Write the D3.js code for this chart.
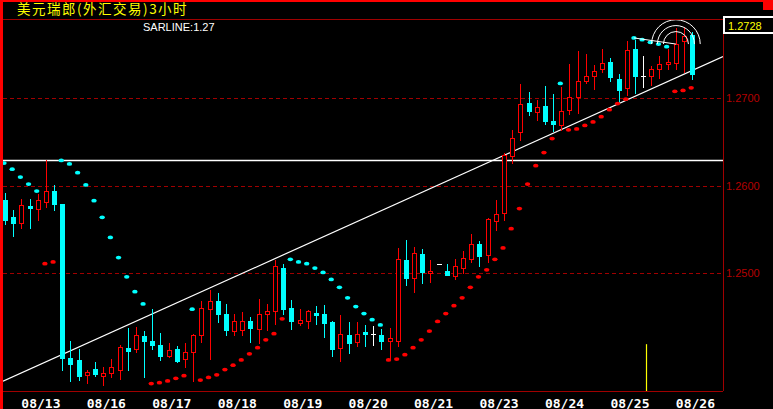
<!DOCTYPE html>
<html>
<head>
<meta charset="utf-8">
<script src="https://cdn.jsdelivr.net/npm/d3@7"></script>
<style>
  html, body { margin: 0; padding: 0; background: #000; }
  svg { display: block; }
</style>
</head>
<body>
<svg></svg>
<script>
const width = 773;
const height = 409;

// 3-hour candles, USD/CHF
const open = [1.2584,1.2564,1.2558,1.2577,1.2573,1.2582,1.2594,1.2579,1.2403,1.2401,
  1.2384,1.2391,1.2383,1.2386,1.2390,1.2415,1.2413,1.2428,1.2423,1.2418,
  1.2406,1.2413,1.2402,1.2410,1.2429,1.2459,1.2468,1.2453,1.2434,1.2435,
  1.2446,1.2436,1.2454,1.2457,1.2506,1.2460,1.2443,1.2446,1.2455,1.2453,
  1.2444,1.2415,1.2429,1.2421,1.2433,1.2431,1.2429,1.2423,1.2423,1.2515,
  1.2495,1.2522,1.2500,1.2511,1.2503,1.2497,1.2506,1.2516,1.2534,1.2521,
  1.2560,1.2569,1.2634,1.2662,1.2695,1.2684,1.2691,1.2674,1.2670,1.2687,
  1.2701,1.2720,1.2726,1.2733,1.2742,1.2722,1.2712,1.2756,1.2725,1.2726,
  1.2734,1.2739,1.2740,1.2765,1.2772];
const high = [1.2592,1.2572,1.2585,1.2585,1.2591,1.2629,1.2601,1.2579,1.2423,1.2413,
  1.2390,1.2399,1.2393,1.2402,1.2418,1.2438,1.2439,1.2434,1.2459,1.2432,
  1.2420,1.2417,1.2420,1.2431,1.2468,1.2481,1.2478,1.2465,1.2454,1.2456,
  1.2450,1.2471,1.2465,1.2515,1.2511,1.2470,1.2459,1.2458,1.2463,1.2464,
  1.2445,1.2452,1.2444,1.2444,1.2441,1.2440,1.2436,1.2437,1.2529,1.2538,
  1.2530,1.2528,1.2515,1.2511,1.2511,1.2516,1.2525,1.2545,1.2537,1.2563,
  1.2584,1.2637,1.2664,1.2716,1.2707,1.2698,1.2714,1.2705,1.2713,1.2739,
  1.2754,1.2751,1.2738,1.2756,1.2746,1.2728,1.2766,1.2767,1.2748,1.2737,
  1.2748,1.2756,1.2780,1.2782,1.2776];
const low = [1.2556,1.2543,1.2552,1.2552,1.2561,1.2576,1.2572,1.2390,1.2377,1.2378,
  1.2375,1.2383,1.2372,1.2381,1.2379,1.2390,1.2410,1.2382,1.2413,1.2401,
  1.2404,1.2399,1.2393,1.2377,1.2421,1.2402,1.2444,1.2430,1.2430,1.2429,
  1.2421,1.2420,1.2435,1.2442,1.2454,1.2436,1.2441,1.2438,1.2442,1.2427,
  1.2405,1.2400,1.2409,1.2417,1.2417,1.2418,1.2414,1.2402,1.2417,1.2487,
  1.2479,1.2489,1.2490,1.2511,1.2498,1.2493,1.2500,1.2513,1.2508,1.2513,
  1.2549,1.2561,1.2626,1.2652,1.2681,1.2675,1.2671,1.2663,1.2664,1.2682,
  1.2683,1.2717,1.2711,1.2730,1.2720,1.2696,1.2704,1.2706,1.2713,1.2715,
  1.2723,1.2733,1.2733,1.2730,1.2722];
const close = [1.2561,1.2558,1.2578,1.2575,1.2584,1.2594,1.2579,1.2403,1.2396,1.2383,
  1.2387,1.2385,1.2386,1.2393,1.2416,1.2411,1.2429,1.2423,1.2418,1.2405,
  1.2412,1.2400,1.2410,1.2430,1.2460,1.2468,1.2453,1.2435,1.2446,1.2445,
  1.2437,1.2453,1.2457,1.2508,1.2459,1.2445,1.2447,1.2457,1.2452,1.2443,
  1.2413,1.2431,1.2420,1.2431,1.2431,1.2431,1.2423,1.2426,1.2516,1.2495,
  1.2523,1.2501,1.2503,1.2511,1.2498,1.2508,1.2517,1.2533,1.2520,1.2562,
  1.2568,1.2635,1.2655,1.2694,1.2685,1.2690,1.2674,1.2671,1.2686,1.2701,
  1.2720,1.2726,1.2731,1.2740,1.2724,1.2710,1.2755,1.2726,1.2725,1.2733,
  1.2739,1.2742,1.2762,1.2771,1.2728];
const sar = [1.2626,1.2619,1.2610,1.2602,1.2594,1.2511,1.2513,1.2629,1.2625,1.2615,
  1.2601,1.2583,1.2564,1.2541,1.2518,1.2496,1.2479,1.2465,1.2374,1.2375,
  1.2377,1.2380,1.2383,1.2459,1.2378,1.2381,1.2384,1.2390,1.2395,1.2401,
  1.2408,1.2415,1.2424,1.2431,1.2448,1.2516,1.2513,1.2511,1.2506,1.2501,
  1.2493,1.2484,1.2472,1.2462,1.2454,1.2447,1.2441,1.2401,1.2402,1.2407,
  1.2415,1.2424,1.2434,1.2445,1.2454,1.2463,1.2472,1.2484,1.2496,1.2504,
  1.2516,1.2529,1.2551,1.2574,1.2602,1.2623,1.2638,1.2654,1.2717,1.2664,
  1.2665,1.2669,1.2673,1.2679,1.2687,1.2694,1.2699,1.2769,1.2767,1.2764,
  1.2762,1.2759,1.2708,1.2709,1.2712];

const dayLabels = ['08/13','08/16','08/17','08/18','08/19','08/20','08/21','08/23','08/24','08/25','08/26'];
const dayStart = [2, 10, 18, 26, 34, 42, 50, 58, 66, 74, 82];
const priceTicks = [1.2500, 1.2600, 1.2700];
const lastPrice = 1.2728;
const sarLine = '1.27';
const flatLevel = 1.2629;
const trendA = {i: 0, p: 1.2378};
const trendB = {i: 84, p: 1.2732};
const fibFrom = 77;
const fibCenter = {i: 81.95, p: 1.2762};
const marker = {i: 78.4, p: 1.2419};

const plotLeft = 3, plotRight = 723, plotTop = 19, plotBottom = 391;

const svg = d3.select('svg')
  .attr('width', width)
  .attr('height', height);

svg.append('rect').attr('width', width).attr('height', height).attr('fill', '#000');

const x = d3.scaleLinear().domain([0, 84]).range([5.5, 692.7]);
const y = d3.scaleLinear().domain([1.25, 1.27]).range([273.3, 98.3]);

const cx = i => Math.floor(x(i)) + 0.5;
const py = v => Math.round(y(v));

// frame
svg.append('rect').attr('x', 0).attr('y', 0).attr('width', plotLeft).attr('height', height).attr('fill', '#ff0000');
svg.append('rect').attr('x', 0).attr('y', 0).attr('width', width).attr('height', 2).attr('fill', '#ff0000');
svg.append('rect').attr('x', 763).attr('y', 0).attr('width', 10).attr('height', 10).attr('fill', '#ff0000');

const frame = svg.append('g').attr('stroke', '#a00000').attr('stroke-width', 1).attr('shape-rendering', 'crispEdges');
frame.append('line').attr('x1', plotLeft).attr('x2', plotRight).attr('y1', plotTop + 0.5).attr('y2', plotTop + 0.5);
frame.append('line').attr('x1', plotRight + 0.5).attr('x2', plotRight + 0.5).attr('y1', plotTop).attr('y2', plotBottom);
frame.append('line').attr('x1', plotLeft).attr('x2', plotRight).attr('y1', plotBottom + 0.5).attr('y2', plotBottom + 0.5);

svg.append('text')
  .attr('x', 17).attr('y', 14)
  .attr('fill', '#ffff00')
  .attr('font-family', '"Noto Sans CJK SC", sans-serif')
  .attr('font-size', 13.5)
  .attr('letter-spacing', 1.5)
  .text('美元瑞郎(外汇交易)3小时');

svg.append('text')
  .attr('x', 143).attr('y', 31)
  .attr('fill', '#fff')
  .attr('font-family', '"Liberation Sans", Arial, sans-serif')
  .attr('font-size', 11)
  .text('SARLINE:' + sarLine);

// price grid
svg.append('g').selectAll('line')
  .data(priceTicks)
  .enter()
  .append('line')
  .attr('x1', plotLeft).attr('x2', plotRight)
  .attr('y1', d => py(d) + 0.5).attr('y2', d => py(d) + 0.5)
  .attr('stroke', '#a00000')
  .attr('stroke-dasharray', '4,3')
  .attr('shape-rendering', 'crispEdges');

svg.append('g').selectAll('text')
  .data(priceTicks)
  .enter()
  .append('text')
  .attr('x', 726)
  .attr('y', d => y(d) + 4)
  .attr('fill', '#b40000')
  .attr('font-family', '"Liberation Sans", Arial, sans-serif')
  .attr('font-size', 11)
  .text(d => d.toFixed(4));

// last price box
svg.append('rect')
  .attr('x', 724).attr('y', 17).attr('width', 60).attr('height', 16)
  .attr('fill', '#000').attr('stroke', '#fff').attr('stroke-width', 2);
svg.append('text')
  .attr('x', 728).attr('y', 29.5)
  .attr('fill', '#ffff00')
  .attr('font-family', '"Liberation Sans", Arial, sans-serif')
  .attr('font-size', 11)
  .text(lastPrice.toFixed(4));

// date labels
svg.append('g').selectAll('text')
  .data(dayLabels)
  .enter()
  .append('text')
  .attr('x', (d, k) => x(dayStart[k]) - 0.5)
  .attr('y', 407.5)
  .attr('fill', '#fff')
  .attr('font-family', '"DejaVu Sans Mono", monospace')
  .attr('font-weight', 'bold')
  .attr('font-size', 13)
  .text(d => d);

svg.append('clipPath').attr('id', 'plot')
  .append('rect').attr('x', plotLeft).attr('y', plotTop + 1).attr('width', plotRight - plotLeft).attr('height', plotBottom - plotTop - 1);

const g = svg.append('g').attr('clip-path', 'url(#plot)');

// flat line
g.append('line')
  .attr('x1', plotLeft).attr('x2', plotRight)
  .attr('y1', py(flatLevel) + 0.5).attr('y2', py(flatLevel) + 0.5)
  .attr('stroke', '#fff').attr('stroke-width', 1.3);

// trend line across the plot
const slope = (trendB.p - trendA.p) / (trendB.i - trendA.i);
const iL = x.invert(plotLeft), iR = x.invert(plotRight);
g.append('line')
  .attr('x1', plotLeft).attr('y1', y(trendA.p + slope * (iL - trendA.i)))
  .attr('x2', plotRight).attr('y2', y(trendA.p + slope * (iR - trendA.i)))
  .attr('stroke', '#fff').attr('stroke-width', 1.2);

// candles
const candles = d3.range(open.length).map(i => ({i, o: open[i], h: high[i], l: low[i], c: close[i]}));
const colorOf = d => d.c > d.o ? '#ff0000' : d.c < d.o ? '#00ffff' : '#ffffff';

const cg = g.append('g').attr('shape-rendering', 'crispEdges');
cg.selectAll('line.wick')
  .data(candles)
  .enter()
  .append('line')
  .attr('class', 'wick')
  .attr('x1', d => cx(d.i)).attr('x2', d => cx(d.i))
  .attr('y1', d => py(d.h)).attr('y2', d => py(d.l) + 1)
  .attr('stroke', colorOf);

cg.selectAll('rect.up')
  .data(candles.filter(d => d.c > d.o))
  .enter()
  .append('rect')
  .attr('x', d => cx(d.i) - 2)
  .attr('y', d => py(d.c) + 0.5)
  .attr('width', 4)
  .attr('height', d => Math.max(1, py(d.o) - py(d.c)))
  .attr('fill', '#000')
  .attr('stroke', '#ff0000');

cg.selectAll('rect.down')
  .data(candles.filter(d => d.c < d.o))
  .enter()
  .append('rect')
  .attr('x', d => cx(d.i) - 2.5)
  .attr('y', d => py(d.o))
  .attr('width', 5)
  .attr('height', d => Math.max(1, py(d.c) - py(d.o) + 1))
  .attr('fill', '#00ffff');

cg.selectAll('line.doji')
  .data(candles.filter(d => d.c === d.o))
  .enter()
  .append('line')
  .attr('x1', d => cx(d.i) - 2.5).attr('x2', d => cx(d.i) + 2.5)
  .attr('y1', d => py(d.o) + 0.5).attr('y2', d => py(d.o) + 0.5)
  .attr('stroke', '#fff');

// SAR dots
g.append('g').selectAll('ellipse')
  .data(sar)
  .enter()
  .append('ellipse')
  .attr('cx', (d, i) => x(i) - 1.5)
  .attr('cy', d => y(d))
  .attr('rx', 2.7)
  .attr('ry', 1.9)
  .attr('fill', (d, i) => d > close[i] ? '#00ffff' : '#ff0000');

// fib arcs
const fx = x(fibCenter.i), fy = y(fibCenter.p);
g.append('line')
  .attr('x1', x(fibFrom) - 1.5).attr('y1', y(sar[fibFrom]))
  .attr('x2', fx).attr('y2', fy)
  .attr('stroke', '#fff').attr('stroke-width', 1);
[12.5, 18.5, 24.3].forEach(r => {
  const p = d3.path();
  p.arc(fx, fy, r, Math.PI, 2 * Math.PI);
  g.append('path').attr('d', p.toString()).attr('fill', 'none').attr('stroke', '#fff').attr('stroke-width', 1);
});

// cursor marker
g.append('line')
  .attr('x1', Math.floor(x(marker.i)) + 0.5).attr('x2', Math.floor(x(marker.i)) + 0.5)
  .attr('y1', y(marker.p)).attr('y2', plotBottom)
  .attr('stroke', '#ffff00').attr('stroke-width', 1.2);
</script>
</body>
</html>
